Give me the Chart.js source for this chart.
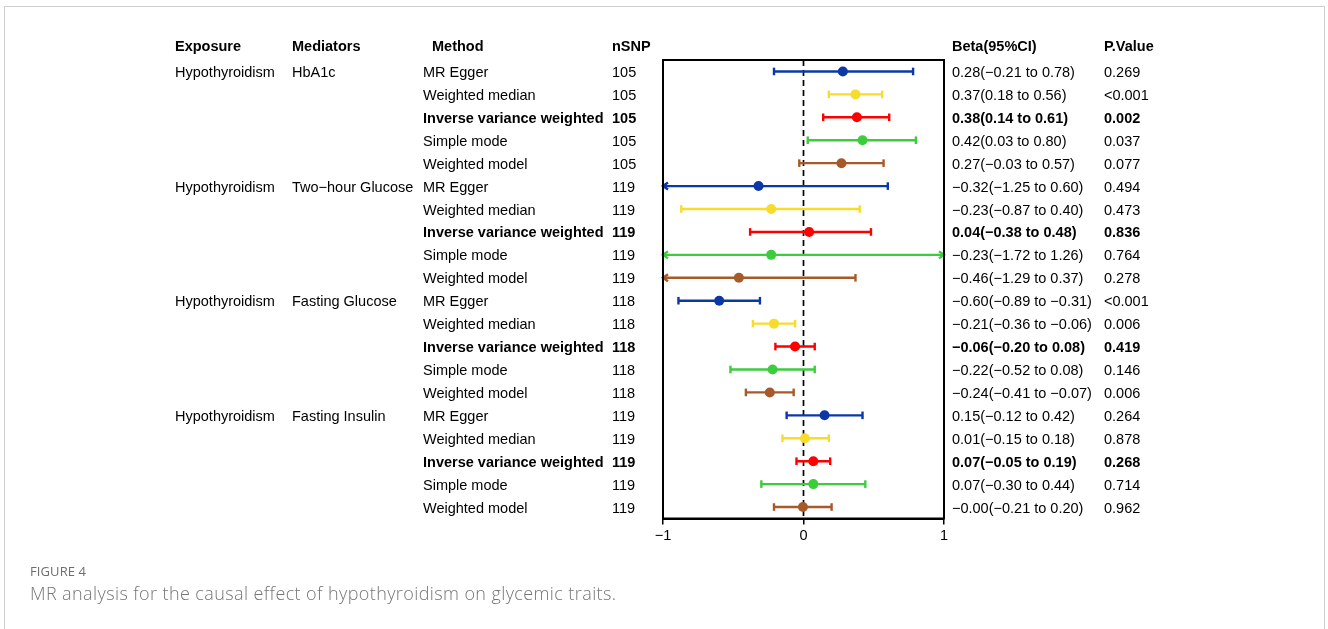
<!DOCTYPE html>
<html>
<head>
<meta charset="utf-8">
<script src="https://cdn.jsdelivr.net/npm/chart.js@4.4.1/dist/chart.umd.min.js"></script>
<style>
  html, body { margin: 0; padding: 0; background: #fff; }
  #wrap { position: relative; width: 1328px; height: 629px; overflow: hidden; }
  #frame { position: absolute; left: 4px; top: 6px; width: 1321px; height: 640px;
           border: 1px solid #cfcfcf; border-bottom: none; box-sizing: border-box; }
  #chartBox { position: absolute; left: 0; top: 0; width: 1328px; height: 629px; }
  .cap1 { position: absolute; left: 30px; top: 562px; font-family: "Open Sans", sans-serif;
          font-size: 13px; color: #6e6e6e; letter-spacing: 0.1px; }
  .cap2 { position: absolute; left: 30px; top: 581px; font-family: "Open Sans", sans-serif;
          font-weight: 300; font-size: 18px; letter-spacing: 0.4px; color: #767676; }
</style>
</head>
<body>
<div id="wrap">
  <div id="frame"></div>
  <div id="chartBox"><canvas id="c"></canvas></div>
  <div class="cap1">FIGURE 4</div>
  <div class="cap2">MR analysis for the causal effect of hypothyroidism on glycemic traits.</div>
</div>
<script>
// Forest plot: MR estimates of hypothyroidism on glycemic traits
const exposure = "Hypothyroidism";
const mediators = ["HbA1c", "Two\u2212hour Glucose", "Fasting Glucose", "Fasting Insulin"];
const methods = ["MR Egger", "Weighted median", "Inverse variance weighted", "Simple mode", "Weighted model"];
const nSNP = [105, 119, 118, 119];
const methodColors = ["#0b38a6", "#f7dc2c", "#ff0000", "#3ccd3c", "#a65a2a"];

// one entry per row, grouped by mediator, methods in the order above
const beta  = [0.28, 0.37, 0.38, 0.42, 0.27,
               -0.32, -0.23, 0.04, -0.23, -0.46,
               -0.60, -0.21, -0.06, -0.22, -0.24,
               0.15, 0.01, 0.07, 0.07, -0.004];
const lower = [-0.21, 0.18, 0.14, 0.03, -0.03,
               -1.25, -0.87, -0.38, -1.72, -1.29,
               -0.89, -0.36, -0.20, -0.52, -0.41,
               -0.12, -0.15, -0.05, -0.30, -0.21];
const upper = [0.78, 0.56, 0.61, 0.80, 0.57,
               0.60, 0.40, 0.48, 1.26, 0.37,
               -0.31, -0.06, 0.08, 0.08, -0.07,
               0.42, 0.18, 0.19, 0.44, 0.20];
const pValue = ["0.269", "<0.001", "0.002", "0.037", "0.077",
                "0.494", "0.473", "0.836", "0.764", "0.278",
                "<0.001", "0.006", "0.419", "0.146", "0.006",
                "0.264", "0.878", "0.268", "0.714", "0.962"];
const xTicks = [-1, 0, 1];

const fmt = v => v.toFixed(2).replace("-", "\u2212");
const nRows = beta.length;

// scatter datasets, one per method
const datasets = methods.map((m, k) => {
  const pts = [];
  for (let i = k; i < nRows; i += methods.length) pts.push({ x: beta[i], y: i });
  return {
    label: m, data: pts,
    pointRadius: 5, pointHoverRadius: 5,
    backgroundColor: methodColors[k], borderColor: methodColors[k], borderWidth: 0
  };
});

const FONT = '"Liberation Sans", Arial, sans-serif';
const FS = '14.5px ';

const forestPlugin = {
  id: 'forest',
  beforeDatasetsDraw(chart) {
    const { ctx, chartArea: a, scales: { x, y } } = chart;
    ctx.save();
    // null-effect reference line
    ctx.strokeStyle = '#000'; ctx.lineWidth = 1.7; ctx.setLineDash([6, 4]);
    const x0 = x.getPixelForValue(0);
    ctx.beginPath(); ctx.moveTo(x0, a.top); ctx.lineTo(x0, a.bottom); ctx.stroke();
    ctx.setLineDash([]);
    // confidence intervals
    for (let i = 0; i < nRows; i++) {
      const col = methodColors[i % methods.length];
      const py = y.getPixelForValue(i);
      const lo = Math.max(lower[i], x.min), hi = Math.min(upper[i], x.max);
      const pl = x.getPixelForValue(lo), ph = x.getPixelForValue(hi);
      ctx.strokeStyle = col; ctx.lineWidth = 2.4; ctx.lineCap = 'butt';
      ctx.beginPath(); ctx.moveTo(pl, py); ctx.lineTo(ph, py); ctx.stroke();
      const end = (px, clipped, dir) => {
        ctx.beginPath();
        if (clipped) {
          ctx.moveTo(px + dir * 5, py - 3.5); ctx.lineTo(px, py); ctx.lineTo(px + dir * 5, py + 3.5);
        } else {
          ctx.moveTo(px, py - 3.8); ctx.lineTo(px, py + 3.8);
        }
        ctx.stroke();
      };
      end(pl, lower[i] < x.min, 1);
      end(ph, upper[i] > x.max, -1);
    }
    ctx.restore();
  },
  afterDraw(chart) {
    const { ctx, chartArea: a, scales: { y } } = chart;
    ctx.save();
    // plot box
    ctx.strokeStyle = '#000'; ctx.lineWidth = 2;
    ctx.strokeRect(a.left, a.top, a.right - a.left, a.bottom - a.top);
    // table text
    const cols = { exp: 175, med: 292, meth: 423, n: 612, beta: 952, p: 1104 };
    ctx.fillStyle = '#000'; ctx.textBaseline = 'middle'; ctx.textAlign = 'left';
    const hy = y.getPixelForValue(-1.1) + 1;
    ctx.font = 'bold ' + FS + FONT;
    ctx.fillText("Exposure", cols.exp, hy);
    ctx.fillText("Mediators", cols.med, hy);
    ctx.fillText("Method", 432, hy);
    ctx.fillText("nSNP", cols.n, hy);
    ctx.fillText("Beta(95%CI)", cols.beta, hy);
    ctx.fillText("P.Value", cols.p, hy);
    for (let i = 0; i < nRows; i++) {
      const g = Math.floor(i / methods.length), k = i % methods.length;
      const py = y.getPixelForValue(i) + 1.5;
      ctx.font = FS + FONT;
      if (k === 0) {
        ctx.fillText(exposure, cols.exp, py);
        ctx.fillText(mediators[g], cols.med, py);
      }
      const bold = methods[k] === "Inverse variance weighted";
      ctx.font = (bold ? 'bold ' : '') + FS + FONT;
      ctx.fillText(methods[k], cols.meth, py);
      ctx.fillText(String(nSNP[g]), cols.n, py);
      ctx.fillText(fmt(beta[i]) + "(" + fmt(lower[i]) + " to " + fmt(upper[i]) + ")", cols.beta, py);
      ctx.fillText(pValue[i], cols.p, py);
    }
    ctx.restore();
  }
};

new Chart(document.getElementById('c'), {
  type: 'scatter',
  data: { datasets },
  options: {
    responsive: true, maintainAspectRatio: false, animation: false,
    layout: { padding: { left: 663, right: 384, top: 60, bottom: 80.5 } },
    plugins: { legend: { display: false }, tooltip: { enabled: false } },
    scales: {
      x: {
        type: 'linear', min: -1, max: 1,
        afterBuildTicks(s) { s.ticks = xTicks.map(v => ({ value: v })); },
        afterFit(s) { s.height = 30; },
        grid: { drawOnChartArea: false, drawTicks: true, tickLength: 6, color: '#000', lineWidth: 1.5 },
        border: { display: true, color: '#000', width: 2 },
        ticks: { color: '#000', font: { family: FONT, size: 14.5 }, padding: 3, maxRotation: 0,
                 callback: v => String(v).replace("-", "\u2212") }
      },
      y: { type: 'linear', min: -0.5, max: 19.5, reverse: true, display: false }
    }
  },
  plugins: [forestPlugin]
});
</script>
</body>
</html>
